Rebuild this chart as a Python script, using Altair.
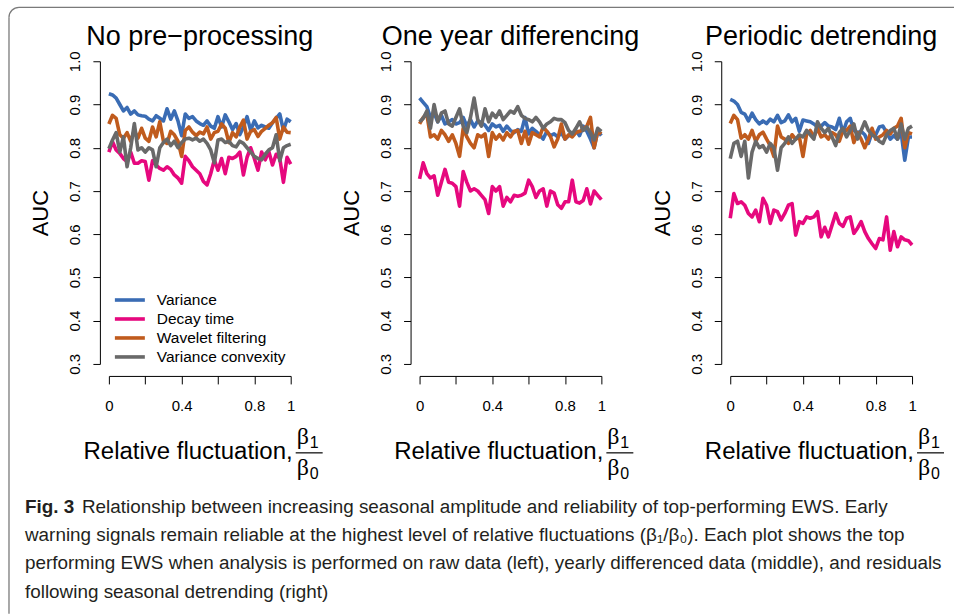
import altair as alt
import pandas as pd

# ---------------- data ----------------
series_names = ["Variance", "Decay time", "Wavelet filtering", "Variance convexity"]
series_colors = ["#3A6CB4", "#E6087E", "#C05B1D", "#696969"]
panel_titles = ["No pre\u2212processing", "One year differencing", "Periodic detrending"]
x_title = "Relative fluctuation,"
x_tick_values = [0, 0.2, 0.4, 0.6, 0.8, 1]
y_tick_values = [0.3, 0.4, 0.5, 0.6, 0.7, 0.8, 0.9, 1.0]
beta_ratio = [round(0.02 * i, 2) for i in range(51)]

raw_variance = [0.925, 0.922, 0.915, 0.900, 0.885, 0.893, 0.878, 0.885, 0.876, 0.874,
                0.873, 0.866, 0.862, 0.874, 0.868, 0.862, 0.890, 0.866, 0.885, 0.862,
                0.828, 0.878, 0.868, 0.872, 0.862, 0.856, 0.852, 0.862, 0.850, 0.845,
                0.872, 0.848, 0.876, 0.860, 0.842, 0.856, 0.830, 0.848, 0.872, 0.840,
                0.862, 0.846, 0.852, 0.848, 0.845, 0.858, 0.868, 0.878, 0.840, 0.866, 0.860]
raw_decay = [0.790, 0.814, 0.795, 0.787, 0.775, 0.768, 0.790, 0.764, 0.764, 0.770,
             0.768, 0.725, 0.770, 0.760, 0.752, 0.748, 0.756, 0.750, 0.737, 0.730,
             0.718, 0.780, 0.770, 0.756, 0.748, 0.740, 0.722, 0.714, 0.740, 0.772,
             0.748, 0.775, 0.740, 0.778, 0.775, 0.780, 0.790, 0.737, 0.778, 0.800,
             0.775, 0.748, 0.790, 0.772, 0.791, 0.760, 0.785, 0.775, 0.720, 0.778, 0.762]
raw_wavelet = [0.855, 0.875, 0.868, 0.830, 0.822, 0.835, 0.815, 0.840, 0.822, 0.845,
               0.822, 0.815, 0.848, 0.825, 0.860, 0.815, 0.810, 0.838, 0.830, 0.815,
               0.780, 0.840, 0.848, 0.836, 0.828, 0.836, 0.832, 0.848, 0.820, 0.835,
               0.838, 0.855, 0.845, 0.812, 0.835, 0.825, 0.848, 0.864, 0.820, 0.838,
               0.842, 0.826, 0.838, 0.845, 0.852, 0.858, 0.870, 0.820, 0.848, 0.836, 0.835]
raw_convexity = [0.798, 0.818, 0.835, 0.790, 0.825, 0.756, 0.800, 0.856, 0.795, 0.800,
                 0.790, 0.800, 0.795, 0.756, 0.800, 0.812, 0.820, 0.805, 0.815, 0.800,
                 0.812, 0.820, 0.822, 0.818, 0.822, 0.815, 0.820, 0.810, 0.795, 0.765,
                 0.818, 0.820, 0.812, 0.815, 0.805, 0.802, 0.815, 0.810, 0.800, 0.790,
                 0.780, 0.775, 0.772, 0.785, 0.795, 0.800, 0.830, 0.770, 0.800, 0.805, 0.808]

diff_variance = [0.915, 0.905, 0.895, 0.870, 0.880, 0.860, 0.875, 0.855, 0.860, 0.865,
                 0.855, 0.858, 0.870, 0.850, 0.865, 0.848, 0.862, 0.858, 0.852, 0.840,
                 0.855, 0.848, 0.852, 0.838, 0.850, 0.840, 0.835, 0.842, 0.838, 0.870,
                 0.832, 0.845, 0.838, 0.830, 0.820, 0.838, 0.828, 0.832, 0.825, 0.835,
                 0.820, 0.828, 0.832, 0.840, 0.828, 0.850, 0.838, 0.820, 0.800, 0.838, 0.828]
diff_decay = [0.728, 0.765, 0.740, 0.730, 0.735, 0.690, 0.720, 0.750, 0.720, 0.718,
              0.710, 0.665, 0.745, 0.720, 0.700, 0.705, 0.700, 0.690, 0.680, 0.648,
              0.710, 0.700, 0.710, 0.665, 0.685, 0.675, 0.690, 0.688, 0.690, 0.695,
              0.725, 0.710, 0.685, 0.700, 0.705, 0.665, 0.700, 0.695, 0.668, 0.660,
              0.675, 0.675, 0.725, 0.675, 0.672, 0.678, 0.705, 0.670, 0.700, 0.690, 0.680]
diff_wavelet = [0.855, 0.870, 0.878, 0.825, 0.830, 0.820, 0.840, 0.830, 0.815, 0.830,
                0.810, 0.780, 0.845, 0.825, 0.810, 0.800, 0.830, 0.825, 0.832, 0.780,
                0.835, 0.820, 0.830, 0.818, 0.835, 0.825, 0.838, 0.840, 0.810, 0.838,
                0.808, 0.835, 0.830, 0.825, 0.848, 0.838, 0.826, 0.802, 0.820, 0.855,
                0.820, 0.830, 0.825, 0.835, 0.838, 0.842, 0.850, 0.870, 0.800, 0.838, 0.832]
diff_convexity = [0.860, 0.868, 0.885, 0.845, 0.900, 0.860, 0.880, 0.885, 0.855, 0.850,
                  0.870, 0.890, 0.850, 0.835, 0.870, 0.915, 0.865, 0.850, 0.890, 0.860,
                  0.880, 0.870, 0.885, 0.865, 0.875, 0.885, 0.880, 0.895, 0.875, 0.868,
                  0.865, 0.860, 0.870, 0.860, 0.845, 0.855, 0.860, 0.868, 0.865, 0.865,
                  0.858, 0.840, 0.832, 0.845, 0.860, 0.840, 0.848, 0.835, 0.818, 0.845, 0.838]

detr_variance = [0.912, 0.908, 0.900, 0.882, 0.878, 0.862, 0.880, 0.865, 0.855, 0.862,
                 0.856, 0.866, 0.860, 0.875, 0.858, 0.862, 0.876, 0.860, 0.868, 0.838,
                 0.864, 0.862, 0.860, 0.855, 0.848, 0.850, 0.858, 0.850, 0.848, 0.842,
                 0.868, 0.835, 0.860, 0.868, 0.840, 0.835, 0.838, 0.830, 0.810, 0.835,
                 0.830, 0.848, 0.850, 0.835, 0.820, 0.828, 0.820, 0.835, 0.771, 0.825, 0.825]
detr_decay = [0.637, 0.694, 0.671, 0.675, 0.667, 0.648, 0.640, 0.656, 0.629, 0.683,
              0.667, 0.625, 0.656, 0.652, 0.633, 0.648, 0.667, 0.671, 0.598, 0.629,
              0.625, 0.640, 0.637, 0.640, 0.652, 0.594, 0.616, 0.594, 0.621, 0.648,
              0.625, 0.618, 0.637, 0.640, 0.602, 0.614, 0.629, 0.606, 0.590, 0.578,
              0.567, 0.590, 0.587, 0.640, 0.563, 0.606, 0.571, 0.594, 0.587, 0.585, 0.575]
detr_wavelet = [0.856, 0.875, 0.865, 0.822, 0.830, 0.820, 0.840, 0.815, 0.830, 0.836,
                0.820, 0.805, 0.780, 0.850, 0.825, 0.820, 0.810, 0.830, 0.820, 0.825,
                0.780, 0.832, 0.840, 0.825, 0.845, 0.825, 0.830, 0.820, 0.835, 0.830,
                0.815, 0.840, 0.840, 0.850, 0.812, 0.835, 0.820, 0.800, 0.820, 0.845,
                0.820, 0.825, 0.830, 0.840, 0.832, 0.845, 0.850, 0.868, 0.800, 0.835, 0.832]
detr_convexity = [0.775, 0.810, 0.815, 0.780, 0.815, 0.730, 0.790, 0.815, 0.800, 0.805,
                  0.790, 0.810, 0.800, 0.748, 0.800, 0.810, 0.825, 0.810, 0.820, 0.830,
                  0.825, 0.840, 0.830, 0.820, 0.860, 0.845, 0.835, 0.845, 0.825, 0.805,
                  0.835, 0.845, 0.825, 0.840, 0.855, 0.820, 0.840, 0.860, 0.840, 0.830,
                  0.825, 0.815, 0.810, 0.830, 0.840, 0.845, 0.820, 0.855, 0.820, 0.845, 0.850]

panel_series = [
    [raw_variance, raw_decay, raw_wavelet, raw_convexity],
    [diff_variance, diff_decay, diff_wavelet, diff_convexity],
    [detr_variance, detr_decay, detr_wavelet, detr_convexity],
]

caption_bold = "Fig. 3"
caption_lines = [
    "Relationship between increasing seasonal amplitude and reliability of top-performing EWS. Early",
    "warning signals remain reliable at the highest level of relative fluctuations (\u03b2\u2081/\u03b2\u2080). Each plot shows the top",
    "performing EWS when analysis is performed on raw data (left), yearly differenced data (middle), and residuals",
    "following seasonal detrending (right)",
]

# ---------------- styling ----------------
FONT = "Liberation Sans"
SERIF = "Liberation Serif"
CAP_FONT = "Liberation Sans Narrow, Liberation Sans, Arial, sans-serif"
CAP_SIZE = 18.9
W, H = 182, 303
color_scale = alt.Scale(domain=series_names, range=series_colors)


def one_text(txt, x, y, size, align="left", font=FONT, weight="normal", color="black",
             baseline="middle"):
    return alt.Chart(pd.DataFrame({"t": [txt]})).mark_text(
        align=align, baseline=baseline, fontSize=size, font=font,
        fontWeight=weight, color=color
    ).encode(x=alt.value(x), y=alt.value(y), text="t:N")


def caption_group():
    # positions relative to the first panel's plot origin
    cap_df = pd.DataFrame({"line": [0, 1, 2, 3], "text": caption_lines})
    cap_y = alt.Y("line:O", axis=None,
                  scale=alt.Scale(type="point", domain=[0, 1, 2, 3], range=[446, 531], padding=0))
    cap_first = alt.Chart(cap_df).transform_filter(alt.datum.line == 0).mark_text(
        align="left", baseline="middle", fontSize=CAP_SIZE, font=CAP_FONT, color="#231F20"
    ).encode(x=alt.value(-27), y=cap_y, text="text:N")
    cap_rest = alt.Chart(cap_df).transform_filter(alt.datum.line > 0).mark_text(
        align="left", baseline="middle", fontSize=CAP_SIZE, font=CAP_FONT, color="#231F20"
    ).encode(x=alt.value(-84), y=cap_y, text="text:N")
    cap_bold = alt.Chart(pd.DataFrame({"line": [0], "text": [caption_bold]})).mark_text(
        align="left", baseline="middle", fontSize=CAP_SIZE, font=CAP_FONT, fontWeight="bold",
        color="#231F20"
    ).encode(x=alt.value(-84), y=cap_y, text="text:N")

    border_color = "#7A7A7A"
    one = pd.DataFrame({"t": [0]})
    border_top = alt.Chart(one).mark_rule(color=border_color, strokeWidth=1.3).encode(
        x=alt.value(-90), x2=alt.value(846), y=alt.value(-54))
    border_left = alt.Chart(one).mark_rule(color=border_color, strokeWidth=1.3).encode(
        x=alt.value(-100), y=alt.value(-44), y2=alt.value(553))
    border_corner = alt.Chart(one).mark_arc(
        color=border_color, radius=10.65, radius2=9.35, theta=4.7124, theta2=6.2832
    ).encode(x=alt.value(-90), y=alt.value(-44))
    return alt.layer(cap_first, cap_rest, cap_bold, border_top, border_left, border_corner)


def make_panel(k):
    rows = []
    for name, vals in zip(series_names, panel_series[k]):
        for xv, yv in zip(beta_ratio, vals):
            rows.append({"series": name, "x": xv, "auc": yv})
    df = pd.DataFrame(rows)

    x_axis = alt.Axis(
        values=x_tick_values, format="~g",
        labelExpr="(datum.value == 0.2 || datum.value == 0.6) ? '' : datum.label",
        offset=12, tickSize=8, labelPadding=15, labelFontSize=15, labelFont=FONT,
        labelColor="black", labelFlush=False, labelOverlap=False,
        domainColor="black", tickColor="black", domainWidth=1, tickWidth=1,
        grid=False, title=None,
    )
    y_axis = alt.Axis(
        values=y_tick_values, format=".1f",
        offset=9, tickSize=7, labelPadding=13, labelFontSize=15, labelFont=FONT,
        labelColor="black", labelAngle=270, labelAlign="center",
        labelBaseline="alphabetic", labelFlush=False, labelOverlap=False,
        domainColor="black", tickColor="black", domainWidth=1, tickWidth=1,
        grid=False, title="AUC", titleFont=FONT, titleFontSize=22,
        titleFontWeight="normal", titleColor="black", titleAngle=270,
        titleX=-59, titleY=H / 2, titleAlign="center", titleBaseline="middle",
    )
    base = alt.Chart(df).encode(
        x=alt.X("x:Q", scale=alt.Scale(domain=[0, 1], nice=False, zero=False), axis=x_axis),
        y=alt.Y("auc:Q", scale=alt.Scale(domain=[0.3, 1.0], nice=False, zero=False), axis=y_axis),
        color=alt.Color("series:N", scale=color_scale, legend=None),
    )
    lines = alt.layer(*[
        base.transform_filter(alt.datum.series == s).mark_line(strokeWidth=3.6, strokeJoin="round")
        for s in series_names
    ])

    annotations = [
        one_text(panel_titles[k], W / 2, -16, 27, align="center", baseline="alphabetic"),
        one_text(x_title, 184, 391, 24, align="right"),
        one_text("\u03b2", 188, 376, 24, font=SERIF),
        one_text("1", 201, 382, 16),
        one_text("\u03b2", 188, 407, 24, font=SERIF),
        one_text("0", 201, 413, 16),
        alt.Chart(pd.DataFrame({"t": [0]})).mark_rule(color="black", strokeWidth=1.2).encode(
            x=alt.value(187), x2=alt.value(214), y=alt.value(392)
        ),
    ]

    if k == 0:
        leg_df = pd.DataFrame({"series": series_names})
        leg_y = alt.Y("series:N", axis=None,
                      scale=alt.Scale(type="point", domain=series_names, range=[239, 296], padding=0))
        leg_rules = alt.Chart(leg_df).mark_rule(strokeWidth=3.6).encode(
            x=alt.value(6), x2=alt.value(36), y=leg_y,
            color=alt.Color("series:N", scale=color_scale, legend=None),
        )
        leg_text = alt.Chart(leg_df).mark_text(
            align="left", baseline="middle", fontSize=15.5, font=FONT, color="black"
        ).encode(x=alt.value(48), y=leg_y, text="series:N")
        core = alt.layer(lines, alt.layer(leg_rules, leg_text), caption_group()).resolve_scale(
            y="independent")
    else:
        core = lines

    return alt.layer(core, *annotations).properties(width=W, height=H)


chart = alt.hconcat(*[make_panel(k) for k in range(3)], spacing=129, bounds="flush").properties(
    padding={"left": 8, "top": 6, "right": 0, "bottom": 0},
    background="white",
).configure_view(stroke=None)

chart.save("out.html", embed_options={"renderer": "svg", "actions": False})
